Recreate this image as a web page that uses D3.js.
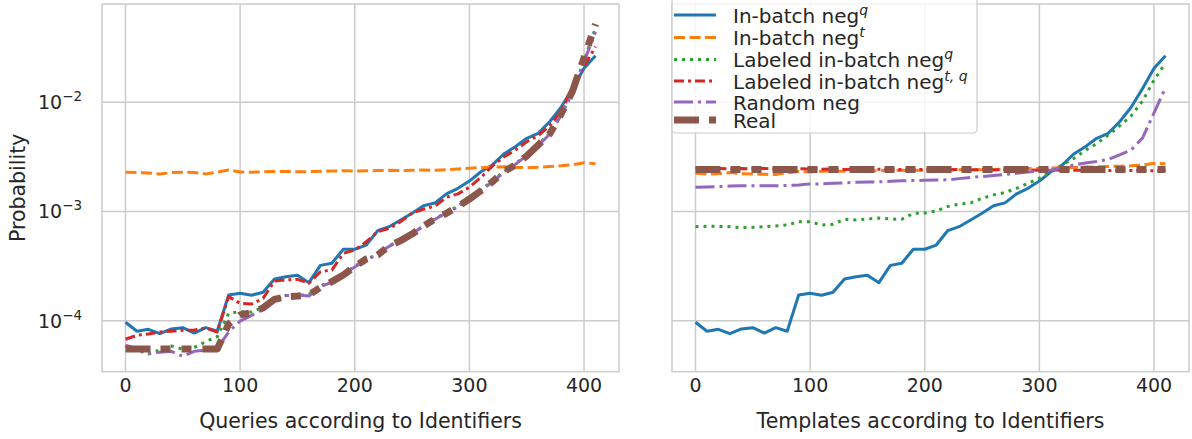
<!DOCTYPE html>
<html>
<head>
<meta charset="utf-8">
<script src="https://cdn.jsdelivr.net/npm/d3@7"></script>
<style>
  body { margin: 0; background: #fff; }
  svg { font-family: "DejaVu Sans", sans-serif; }
</style>
</head>
<body>
<div id="chart"></div>
<script>
// Identificadores (eje x) compartidos por ambos paneles
const ids = [0, 10, 20, 30, 40, 50, 60, 70, 80, 90, 100, 110, 120, 130, 140, 150, 160, 170, 180, 190, 200,
  210, 220, 230, 240, 250, 260, 270, 280, 290, 300, 310, 320, 330, 340, 350, 360, 370, 380, 390, 400, 410];

const xTicks = [0, 100, 200, 300, 400];
const yTicks = [1e-4, 1e-3, 1e-2];

// In-batch neg^q (igual en los dos paneles)
const inBatchQ = [9.67e-5, 8.0e-5, 8.34e-5, 7.6e-5, 8.4e-5, 8.63e-5, 7.7e-5, 8.63e-5, 8.0e-5, 1.72e-4,
  1.78e-4, 1.71e-4, 1.82e-4, 2.41e-4, 2.53e-4, 2.61e-4, 2.23e-4, 3.21e-4, 3.36e-4, 4.51e-4, 4.51e-4,
  4.93e-4, 6.67e-4, 7.26e-4, 8.36e-4, 9.63e-4, 1.13e-3, 1.20e-3, 1.45e-3, 1.63e-3, 1.90e-3,
  2.31e-3, 2.67e-3, 3.36e-3, 3.92e-3, 4.68e-3, 5.20e-3, 6.64e-3, 9.0e-3, 1.34e-2, 2.05e-2, 2.67e-2];

// Panel izquierdo: consultas
const qInBatchT = [2.29e-3, 2.27e-3, 2.25e-3, 2.20e-3, 2.27e-3, 2.29e-3, 2.27e-3, 2.21e-3, 2.29e-3, 2.40e-3,
  2.30e-3, 2.29e-3, 2.31e-3, 2.32e-3, 2.33e-3, 2.31e-3, 2.32e-3, 2.34e-3, 2.35e-3, 2.36e-3, 2.34e-3,
  2.36e-3, 2.37e-3, 2.38e-3, 2.37e-3, 2.39e-3, 2.40e-3, 2.38e-3, 2.42e-3, 2.45e-3, 2.49e-3,
  2.52e-3, 2.55e-3, 2.57e-3, 2.54e-3, 2.52e-3, 2.54e-3, 2.58e-3, 2.62e-3, 2.68e-3, 2.80e-3, 2.74e-3];
const qLabeledQ = [5.86e-5, 5.39e-5, 4.95e-5, 5.39e-5, 5.86e-5, 5.5e-5, 5.7e-5, 6.42e-5, 7.13e-5, 1.17e-4,
  1.21e-4, 1.20e-4, 1.33e-4, 1.62e-4, 1.70e-4, 1.70e-4, 1.75e-4, 2.08e-4, 2.30e-4, 2.68e-4, 3.15e-4,
  3.62e-4, 4.1e-4, 4.85e-4, 5.5e-4, 6.3e-4, 7.4e-4, 8.6e-4, 9.8e-4, 1.12e-3, 1.32e-3,
  1.58e-3, 1.9e-3, 2.33e-3, 2.72e-3, 3.3e-3, 4.1e-3, 5.2e-3, 7.7e-3, 1.24e-2, 2.4e-2, 4.8e-2];
const qLabeledTQ = [6.76e-5, 7.35e-5, 7.55e-5, 7.88e-5, 8.0e-5, 8.17e-5, 8.22e-5, 8.57e-5, 7.88e-5, 1.66e-4,
  1.44e-4, 1.42e-4, 1.60e-4, 2.31e-4, 2.36e-4, 2.39e-4, 2.20e-4, 2.81e-4, 2.91e-4, 4.14e-4, 4.44e-4,
  5.28e-4, 6.53e-4, 7.02e-4, 8.07e-4, 9.63e-4, 1.05e-3, 1.12e-3, 1.35e-3, 1.45e-3, 1.67e-3,
  2.05e-3, 2.6e-3, 3.15e-3, 3.65e-3, 4.35e-3, 4.95e-3, 6.1e-3, 8.3e-3, 1.34e-2, 2.12e-2, 3.23e-2];
const qRandom = [5.98e-5, 5.51e-5, 5.05e-5, 5.15e-5, 5.25e-5, 4.72e-5, 5.25e-5, 5.36e-5, 5.6e-5, 7.88e-5,
  9.93e-5, 1.12e-4, 1.28e-4, 1.55e-4, 1.70e-4, 1.72e-4, 1.68e-4, 2.05e-4, 2.25e-4, 2.65e-4, 3.10e-4,
  3.60e-4, 4.05e-4, 4.80e-4, 5.45e-4, 6.30e-4, 7.30e-4, 8.50e-4, 9.70e-4, 1.10e-3, 1.30e-3,
  1.56e-3, 1.86e-3, 2.28e-3, 2.70e-3, 3.25e-3, 4.00e-3, 5.10e-3, 7.60e-3, 1.22e-2, 2.35e-2, 4.4e-2];
const qReal = [5.5e-5, 5.5e-5, 5.5e-5, 5.5e-5, 5.5e-5, 5.5e-5, 5.5e-5, 5.5e-5, 5.5e-5, 9.33e-5,
  1.13e-4, 1.18e-4, 1.31e-4, 1.57e-4, 1.66e-4, 1.68e-4, 1.72e-4, 2.02e-4, 2.28e-4, 2.62e-4, 3.13e-4,
  3.67e-4, 4.0e-4, 4.83e-4, 5.41e-4, 6.22e-4, 7.36e-4, 8.53e-4, 9.63e-4, 1.11e-3, 1.30e-3,
  1.55e-3, 1.87e-3, 2.31e-3, 2.67e-3, 3.22e-3, 4.06e-3, 5.13e-3, 7.82e-3, 1.27e-2, 2.55e-2, 5.2e-2];

// Panel derecho: plantillas
const tInBatchT = [2.24e-3, 2.20e-3, 2.22e-3, 2.27e-3, 2.22e-3, 2.20e-3, 2.19e-3, 2.18e-3, 2.26e-3, 2.32e-3,
  2.30e-3, 2.33e-3, 2.35e-3, 2.33e-3, 2.36e-3, 2.34e-3, 2.37e-3, 2.36e-3, 2.38e-3, 2.37e-3, 2.39e-3,
  2.40e-3, 2.39e-3, 2.41e-3, 2.42e-3, 2.41e-3, 2.43e-3, 2.44e-3, 2.46e-3, 2.47e-3, 2.48e-3,
  2.50e-3, 2.52e-3, 2.53e-3, 2.55e-3, 2.56e-3, 2.58e-3, 2.60e-3, 2.62e-3, 2.66e-3, 2.76e-3, 2.74e-3];
const tLabeledQ = [7.26e-4, 7.31e-4, 7.31e-4, 7.26e-4, 7.11e-4, 7.16e-4, 7.26e-4, 7.36e-4, 7.52e-4, 8.07e-4,
  8.07e-4, 7.52e-4, 7.64e-4, 8.49e-4, 8.36e-4, 8.53e-4, 8.71e-4, 8.53e-4, 8.49e-4, 9.63e-4, 9.68e-4,
  1.01e-3, 1.11e-3, 1.17e-3, 1.20e-3, 1.32e-3, 1.42e-3, 1.49e-3, 1.63e-3, 1.81e-3, 2.01e-3,
  2.31e-3, 2.67e-3, 3.06e-3, 3.62e-3, 4.19e-3, 5.02e-3, 6.07e-3, 7.50e-3, 1.03e-2, 1.60e-2, 2.29e-2];
const tLabeledTQ = [2.50e-3, 2.47e-3, 2.48e-3, 2.45e-3, 2.47e-3, 2.46e-3, 2.48e-3, 2.45e-3, 2.44e-3, 2.46e-3,
  2.45e-3, 2.44e-3, 2.45e-3, 2.43e-3, 2.44e-3, 2.43e-3, 2.44e-3, 2.42e-3, 2.43e-3, 2.42e-3, 2.43e-3,
  2.42e-3, 2.41e-3, 2.42e-3, 2.41e-3, 2.42e-3, 2.40e-3, 2.41e-3, 2.40e-3, 2.41e-3, 2.39e-3,
  2.40e-3, 2.39e-3, 2.38e-3, 2.39e-3, 2.38e-3, 2.37e-3, 2.38e-3, 2.37e-3, 2.37e-3, 2.36e-3, 2.37e-3];
const tRandom = [1.67e-3, 1.68e-3, 1.69e-3, 1.71e-3, 1.72e-3, 1.72e-3, 1.72e-3, 1.72e-3, 1.73e-3, 1.75e-3,
  1.79e-3, 1.79e-3, 1.81e-3, 1.83e-3, 1.85e-3, 1.86e-3, 1.87e-3, 1.89e-3, 1.91e-3, 1.92e-3, 1.93e-3,
  1.94e-3, 1.95e-3, 2.00e-3, 2.05e-3, 2.09e-3, 2.14e-3, 2.18e-3, 2.24e-3, 2.30e-3, 2.35e-3,
  2.40e-3, 2.50e-3, 2.67e-3, 2.78e-3, 2.87e-3, 3.0e-3, 3.3e-3, 3.66e-3, 4.71e-3, 8.0e-3, 1.37e-2];
const tReal = [2.43e-3, 2.43e-3, 2.43e-3, 2.43e-3, 2.43e-3, 2.43e-3, 2.43e-3, 2.43e-3, 2.43e-3, 2.43e-3,
  2.43e-3, 2.43e-3, 2.43e-3, 2.43e-3, 2.43e-3, 2.43e-3, 2.43e-3, 2.43e-3, 2.43e-3, 2.43e-3, 2.43e-3,
  2.43e-3, 2.43e-3, 2.43e-3, 2.43e-3, 2.43e-3, 2.43e-3, 2.43e-3, 2.43e-3, 2.43e-3, 2.43e-3,
  2.43e-3, 2.43e-3, 2.43e-3, 2.43e-3, 2.43e-3, 2.43e-3, 2.43e-3, 2.43e-3, 2.43e-3, 2.43e-3, 2.43e-3];

// Estilos de cada serie (mismo orden que la leyenda)
const styles = [
  { color: "#1f77b4", width: 3, dash: null },
  { color: "#ff7f0e", width: 3, dash: "11,4.5" },
  { color: "#2ca02c", width: 3, dash: "3,5" },
  { color: "#d62728", width: 3, dash: "10,4,3,4" },
  { color: "#9467bd", width: 3, dash: "19,5,3,5" },
  { color: "#8c564b", width: 7, dash: "25,10,10,11,10,11" }
];

const width = 1192, height = 439;
const plotTop = 4, plotBottom = 371.7;
const textColor = "#262626", gridColor = "#cccccc";

const svg = d3.select("#chart").append("svg")
  .attr("width", width)
  .attr("height", height);

const y = d3.scaleLog()
  .domain([Math.pow(10, -4.467), Math.pow(10, -1.1)])
  .range([plotBottom, plotTop]);

const panels = [
  { left: 102, right: 619, label: "Queries according to Identifiers",
    series: [inBatchQ, qInBatchT, qLabeledQ, qLabeledTQ, qRandom, qReal], yLabels: true },
  { left: 672, right: 1189, label: "Templates according to Identifiers",
    series: [inBatchQ, tInBatchT, tLabeledQ, tLabeledTQ, tRandom, tReal], yLabels: false }
];

panels.forEach(p => {
  const x = d3.scaleLinear().domain([-20.5, 430.5]).range([p.left, p.right]);
  const g = svg.append("g");

  // Rejilla
  g.selectAll(".gx").data(xTicks).enter().append("line")
    .attr("x1", d => x(d)).attr("x2", d => x(d))
    .attr("y1", plotTop).attr("y2", plotBottom)
    .attr("stroke", gridColor).attr("stroke-width", 1.5);
  g.selectAll(".gy").data(yTicks).enter().append("line")
    .attr("x1", p.left).attr("x2", p.right)
    .attr("y1", d => y(d)).attr("y2", d => y(d))
    .attr("stroke", gridColor).attr("stroke-width", 1.5);

  // Etiquetas del eje x
  g.selectAll(".tx").data(xTicks).enter().append("text")
    .attr("x", d => x(d)).attr("y", 392)
    .attr("text-anchor", "middle")
    .attr("font-size", 19).attr("fill", textColor)
    .text(d => d);
  g.append("text")
    .attr("x", (p.left + p.right) / 2).attr("y", 428)
    .attr("text-anchor", "middle")
    .attr("font-size", 20.5).attr("fill", textColor)
    .text(p.label);

  if (p.yLabels) {
    const yt = g.selectAll(".ty").data(yTicks).enter().append("text")
      .attr("x", 38).attr("y", d => y(d) + 7)
      .attr("font-size", 19).attr("fill", textColor);
    yt.append("tspan").text("10");
    yt.append("tspan").attr("dy", -8).attr("font-size", 13.5)
      .text(d => "\u2212" + Math.round(-Math.log10(d)));
    g.append("text")
      .attr("transform", `translate(25,${(plotTop + plotBottom) / 2}) rotate(-90)`)
      .attr("text-anchor", "middle")
      .attr("font-size", 20.5).attr("fill", textColor)
      .text("Probability");
  }

  // Curvas
  const line = d3.line()
    .x((d, i) => x(ids[i]))
    .y(d => y(d));
  p.series.forEach((s, k) => {
    const st = styles[k];
    g.append("path")
      .datum(s)
      .attr("d", line)
      .attr("fill", "none")
      .attr("stroke", st.color)
      .attr("stroke-width", st.width)
      .attr("stroke-linejoin", "round")
      .attr("stroke-dasharray", st.dash);
  });

  // Marco
  g.append("rect")
    .attr("x", p.left).attr("y", plotTop)
    .attr("width", p.right - p.left).attr("height", plotBottom - plotTop)
    .attr("fill", "none").attr("stroke", gridColor).attr("stroke-width", 1.5);
});

// Leyenda
const legendRows = [
  { base: "In-batch neg", sup: "q" },
  { base: "In-batch neg", sup: "t" },
  { base: "Labeled in-batch neg", sup: "q" },
  { base: "Labeled in-batch neg", sup: "t, q" },
  { base: "Random neg", sup: null },
  { base: "Real", sup: null }
];
const rowY = [15, 37.5, 59.5, 81, 102, 120];

const lg = svg.append("g");
lg.append("rect")
  .attr("x", 672).attr("y", -3)
  .attr("width", 305).attr("height", 136)
  .attr("rx", 4)
  .attr("fill", "#fff").attr("fill-opacity", 0.8)
  .attr("stroke", gridColor).attr("stroke-width", 1.2);

legendRows.forEach((r, k) => {
  const st = styles[k];
  lg.append("line")
    .attr("x1", 674).attr("x2", 716)
    .attr("y1", rowY[k]).attr("y2", rowY[k])
    .attr("stroke", st.color)
    .attr("stroke-width", st.width)
    .attr("stroke-dasharray", st.dash);
  const t = lg.append("text")
    .attr("x", 733).attr("y", rowY[k] + 7.5)
    .attr("font-size", 20).attr("fill", textColor);
  t.append("tspan").text(r.base);
  if (r.sup) {
    t.append("tspan").attr("dy", -8).attr("font-size", 14)
      .attr("font-style", "italic").text(r.sup);
  }
});
</script>
</body>
</html>
